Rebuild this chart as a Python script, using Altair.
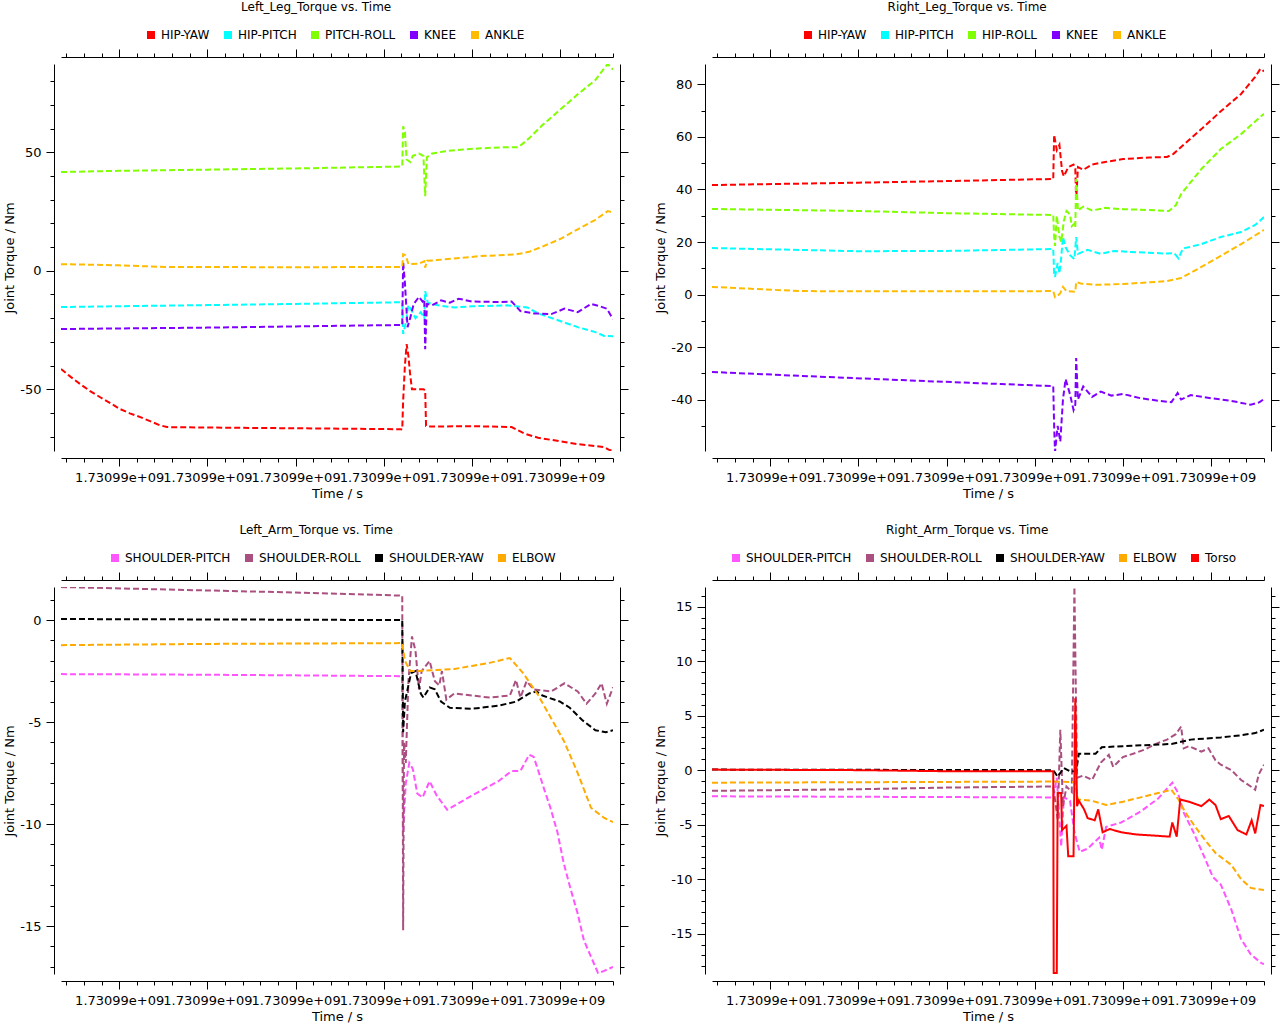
import altair as alt
import pandas as pd

FONT = "DejaVu Sans"
X_TICK_LABEL = "1.73099e+09"
X_TITLE = "Time / s"
Y_TITLE = "Joint Torque / Nm"
X_DOMAIN = [-6.6, 56.0]
X_MAJOR = [0, 10, 20, 30, 40, 50]
X_MINOR = [v for v in range(-6, 57, 2) if v % 10 != 0]

LEG_COLORS = ["#ff0000", "#00ffff", "#80ff00", "#8000ff", "#ffbb00"]
ARM_COLORS = ["#ff55ff", "#aa5080", "#000000", "#ffaa00", "#ff0000"]
DASH = [6, 3]
SOLID = [1, 0]

# ---------------- Left leg ----------------
LL_TITLE = "Left_Leg_Torque vs. Time"
LL_NAMES = ["HIP-YAW", "HIP-PITCH", "PITCH-ROLL", "KNEE", "ANKLE"]
LL_Y_DOMAIN = [-76.1, 87.3]
LL_Y_MAJOR = [-50, 0, 50]
LL_Y_MINOR = [-70, -60, -40, -30, -20, -10, 10, 20, 30, 40, 60, 70, 80]
LL_HIP_YAW = [(-6.6, -41.5), (-5.5, -44.8), (-4.4, -47.9), (-3.3, -50.8), (-2.2, -53.3), (-1.0, -55.9),
              (0.1, -58.4), (1.2, -60.2), (2.4, -61.8), (3.5, -63.5), (4.6, -65.2), (5.4, -66.0),
              (10, -66.2), (20, -66.5), (31.9, -66.9), (32.1, -67.0), (32.2, -55.0), (32.4, -40.0),
              (32.6, -31.0), (32.8, -36.0), (33.0, -44.0), (33.2, -50.0), (34.5, -50.0), (34.7, -50.5),
              (34.8, -65.5), (35.3, -65.8), (40.0, -65.6), (44.5, -66.0), (46.0, -68.8), (47.5, -70.5),
              (50.0, -72.0), (52.0, -73.2), (54.0, -74.0), (55.0, -74.5), (55.5, -75.5), (56.0, -76.1)]
LL_HIP_PITCH = [(-6.6, -15.3), (10, -14.5), (20, -14.0), (31.9, -13.3), (32.1, -13.3), (32.2, -26.7),
                (32.5, -22.0), (32.8, -14.5), (33.2, -17.0), (33.6, -20.0), (34.2, -17.5), (34.6, -20.0),
                (34.7, -8.6), (35.0, -13.5), (36.0, -14.5), (38.0, -15.5), (40.0, -15.0), (44.0, -14.6),
                (46.3, -15.5), (47.5, -18.0), (50.0, -21.2), (52.0, -23.8), (54.0, -25.9), (55.0, -27.5),
                (56.0, -27.6)]
LL_PITCH_ROLL = [(-6.6, 41.7), (0, 42.2), (10, 42.7), (20, 43.2), (31.9, 44.0), (32.1, 44.2), (32.2, 61.0),
                 (32.4, 58.5), (32.6, 47.0), (33.0, 45.9), (33.3, 48.5), (34.0, 49.5), (34.5, 48.5),
                 (34.7, 31.5), (34.9, 48.0), (35.5, 49.5), (37, 50.5), (39, 51.2), (41, 51.7), (44, 52.2),
                 (45.3, 52.2), (46.5, 56.0), (48, 61.5), (50, 68.0), (52, 74.5), (54, 80.5), (55, 85.5),
                 (55.4, 87.3), (55.7, 86.0), (56.0, 85.0)]
LL_KNEE = [(-6.6, -24.6), (10, -24.0), (20, -23.5), (31.9, -22.9), (32.1, -22.9), (32.2, 3.7), (32.4, -5.0),
           (32.7, -23.8), (33.0, -20.0), (33.4, -14.0), (34.0, -11.0), (34.4, -13.0), (34.6, -12.0),
           (34.7, -33.1), (34.9, -14.0), (35.5, -14.5), (36.5, -12.5), (37.5, -13.5), (38.5, -11.8),
           (40, -13.0), (43, -13.2), (44.5, -13.0), (45.5, -17.0), (47, -18.0), (49, -18.3), (50.5, -16.0),
           (52, -17.5), (53.5, -14.0), (54.5, -15.0), (55.3, -16.0), (56.0, -20.4)]
LL_ANKLE = [(-6.6, 2.8), (0, 2.3), (5.2, 1.6), (20, 1.5), (31.9, 1.6), (32.1, 1.6), (32.2, 7.0), (32.5, 6.5),
            (32.8, 2.8), (34.0, 3.0), (34.6, 4.0), (34.7, 1.3), (34.9, 4.2), (36, 4.5), (38, 5.2), (41, 6.2),
            (45, 6.9), (46.5, 8.0), (48, 10.2), (50, 13.4), (52, 17.5), (54, 21.5), (55.4, 25.2), (56, 24.6)]

# ---------------- Right leg ----------------
RL_TITLE = "Right_Leg_Torque vs. Time"
RL_NAMES = ["HIP-YAW", "HIP-PITCH", "HIP-ROLL", "KNEE", "ANKLE"]
RL_Y_DOMAIN = [-59.6, 87.8]
RL_Y_MAJOR = [-40, -20, 0, 20, 40, 60, 80]
RL_Y_MINOR = [-50, -30, -10, 10, 30, 50, 70]
RL_HIP_YAW = [(-6.6, 41.7), (10, 42.6), (20, 43.2), (31.9, 44.0), (32.1, 44.0), (32.2, 60.8), (32.5, 55.0),
              (32.8, 57.0), (33.1, 47.0), (33.3, 45.0), (33.8, 48.5), (34.4, 49.5), (34.6, 48.0), (34.7, 36.0),
              (34.9, 48.5), (35.5, 47.5), (36.5, 49.5), (38, 50.5), (40, 51.6), (43, 52.2), (45.0, 52.4),
              (45.7, 53.5), (46.6, 56.2), (48.9, 63.0), (51, 69.5), (53.4, 76.4), (55.0, 82.9), (55.6, 86.0),
              (56, 85.0)]
RL_HIP_PITCH = [(-6.6, 17.7), (10, 16.5), (20, 16.6), (31.9, 17.3), (32.1, 17.3), (32.2, 8.0), (32.3, 6.7),
                (32.6, 12.0), (32.8, 8.0), (33.0, 14.0), (33.2, 21.9), (33.5, 18.0), (34.0, 15.0), (34.5, 13.5),
                (34.7, 21.9), (34.9, 15.5), (36, 17.0), (37.5, 15.5), (39, 16.6), (41, 16.2), (45, 15.6),
                (45.8, 15.8), (46.3, 13.8), (46.8, 17.5), (48.9, 19.2), (51.1, 21.9), (53.4, 23.8), (55, 26.5),
                (56, 29.5)]
RL_HIP_ROLL = [(-6.6, 32.6), (10, 31.8), (20, 31.0), (31.9, 30.3), (32.1, 30.3), (32.2, 22.0), (32.3, 18.5),
               (32.5, 30.0), (32.8, 22.0), (33.0, 20.0), (33.3, 28.0), (33.6, 31.8), (34.0, 30.5), (34.2, 26.0),
               (34.5, 27.0), (34.6, 25.5), (34.7, 44.0), (34.9, 32.0), (35.5, 33.5), (36.5, 32.0), (38, 33.0),
               (40, 32.5), (43, 32.2), (45.2, 31.8), (46.0, 34.0), (46.6, 38.3), (48.9, 47.8), (51.1, 55.4),
               (53.4, 61.1), (55.7, 68.0), (56, 68.8)]
RL_KNEE = [(-6.6, -29.5), (3.5, -31.0), (14.9, -32.6), (26.2, -34.1), (31.9, -34.9), (32.1, -34.9),
           (32.2, -50.0), (32.3, -60.0), (32.6, -50.0), (32.9, -56.0), (33.2, -40.0), (33.5, -32.2),
           (34.0, -38.0), (34.4, -44.0), (34.6, -42.0), (34.7, -24.2), (34.9, -40.0), (35.5, -35.0),
           (36.5, -39.0), (37.5, -37.0), (38.7, -38.5), (40, -37.9), (42, -39.5), (44.3, -40.6),
           (45.5, -41.0), (46.2, -37.5), (46.6, -40.0), (47.7, -38.3), (50, -39.5), (52.3, -40.5),
           (54.5, -42.0), (55.5, -41.0), (56, -39.8)]
RL_ANKLE = [(-6.6, 2.9), (3.5, 1.3), (20, 1.2), (31.9, 1.3), (32.1, 1.3), (32.3, -1.0), (32.6, -0.5),
            (32.9, 0.5), (33.2, 2.9), (33.6, 1.3), (34.6, 1.0), (34.7, 4.8), (35.2, 4.2), (37, 3.7), (40, 4.0),
            (45, 5.1), (46.6, 6.3), (48.9, 10.5), (51.1, 14.7), (53.4, 19.2), (56, 24.6)]

# ---------------- Left arm ----------------
LA_TITLE = "Left_Arm_Torque vs. Time"
LA_NAMES = ["SHOULDER-PITCH", "SHOULDER-ROLL", "SHOULDER-YAW", "ELBOW"]
LA_Y_DOMAIN = [-17.35, 1.62]
LA_Y_MAJOR = [-15, -10, -5, 0]
LA_Y_MINOR = [v for v in range(-17, 2) if v % 5 != 0]
LA_SH_PITCH = [(-6.6, -2.65), (10, -2.68), (31.9, -2.75), (32.1, -2.75), (32.2, -10.3), (32.5, -8.0),
               (32.9, -7.0), (33.3, -7.3), (33.8, -8.5), (34.4, -8.7), (35.2, -7.9), (36, -8.6), (37.2, -9.3),
               (40, -8.6), (43, -7.9), (44.5, -7.4), (45.5, -7.4), (46.5, -6.6), (47, -6.7), (47.5, -7.35),
               (48.2, -8.3), (48.9, -9.2), (49.7, -10.4), (50.4, -11.9), (51.2, -13.2), (52, -14.4),
               (52.7, -15.7), (53.5, -16.5), (54.3, -17.3), (55, -17.2), (56, -17.0)]
LA_SH_ROLL = [(-6.6, 1.62), (10, 1.45), (20, 1.35), (31.9, 1.2), (32.1, 1.2), (32.2, -15.2), (32.3, -6.0),
              (32.5, -7.0), (32.8, -3.0), (33.2, -0.8), (33.6, -1.5), (34.0, -3.4), (34.3, -2.5), (35.2, -2.0),
              (35.8, -3.0), (36.3, -3.2), (36.6, -2.5), (37.1, -3.9), (38, -3.6), (40, -3.7), (42, -3.8),
              (44.3, -3.7), (45, -2.94), (45.5, -3.8), (46.2, -3.0), (47, -3.4), (49, -3.5), (50.5, -3.1),
              (52, -3.5), (53, -4.1), (54, -3.6), (54.7, -3.1), (55.3, -4.1), (56, -3.3)]
LA_SH_YAW = [(-6.6, 0.05), (10, 0.03), (31.9, 0.0), (32.1, 0.0), (32.2, -5.5), (32.4, -4.0), (32.7, -3.4),
             (33.1, -2.6), (33.6, -2.5), (34.2, -3.6), (34.5, -3.8), (35.2, -3.3), (35.8, -3.4), (36.5, -4.0),
             (37.5, -4.3), (40, -4.35), (43, -4.2), (45, -4.0), (46.5, -3.6), (47.3, -3.5), (48, -3.7),
             (50, -4.0), (51.1, -4.3), (52.5, -4.9), (54, -5.4), (55.2, -5.5), (56, -5.4)]
LA_ELBOW = [(-6.6, -1.23), (10, -1.17), (31.9, -1.13), (32.1, -1.13), (32.4, -2.0), (33.0, -2.5), (34, -2.5),
            (36, -2.45), (38, -2.4), (40, -2.25), (42, -2.1), (44.3, -1.86), (45.8, -2.6), (47.4, -3.6),
            (48.9, -4.75), (50.4, -5.9), (52, -7.5), (53.5, -9.2), (55, -9.7), (56, -9.9)]

# ---------------- Right arm ----------------
RA_TITLE = "Right_Arm_Torque vs. Time"
RA_NAMES = ["SHOULDER-PITCH", "SHOULDER-ROLL", "SHOULDER-YAW", "ELBOW", "Torso"]
RA_Y_DOMAIN = [-18.7, 16.8]
RA_Y_MAJOR = [-15, -10, -5, 0, 5, 10, 15]
RA_Y_MINOR = [v for v in range(-18, 17) if v % 5 != 0]
RA_SH_PITCH = [(-6.6, -2.4), (31.9, -2.5), (32.1, -2.5), (32.5, -0.7), (33.0, -7.0), (33.3, -2.5), (34.0, -2.8),
               (34.5, -5.7), (35.1, -7.5), (36, -7.2), (37.3, -6.2), (37.6, -7.3), (38.1, -5.2), (39.8, -4.8),
               (42, -3.8), (44, -2.6), (45.6, -1.15), (46.2, -2.0), (46.9, -3.9), (48.0, -5.7), (49.2, -7.9),
               (50.2, -9.8), (51.1, -10.5), (52.3, -12.8), (53.4, -15.5), (54.5, -16.9), (55.7, -17.7),
               (56, -17.8)]
RA_SH_ROLL = [(-6.6, -1.9), (10, -1.75), (20, -1.6), (31.9, -1.5), (32.1, -1.5), (32.6, -4.5), (32.9, 3.7),
              (33.2, -3.3), (33.6, -1.5), (34.2, -2.0), (34.5, 16.8), (34.8, -0.7), (35.5, -0.5), (36.5, -0.9),
              (37.5, 0.7), (38.4, 1.4), (38.9, 0.3), (40, 1.2), (41.5, 1.6), (42.5, 1.9), (44, 2.5), (45, 2.8),
              (46, 3.3), (46.6, 4.0), (46.9, 2.0), (47.5, 2.2), (48.9, 1.7), (49.7, 2.0), (50.5, 0.9),
              (51.1, 0.5), (52.3, 0.0), (53.4, -0.9), (54.5, -1.5), (55.0, -1.8), (55.4, -0.4), (56.0, 0.5)]
RA_SH_YAW = [(-6.6, 0.05), (31.9, 0.0), (32.1, 0.0), (32.6, -0.6), (33.3, 0.2), (34.0, -0.1), (34.7, -0.1),
             (35.0, 1.5), (36.9, 1.5), (37.6, 2.1), (40, 2.2), (45.5, 2.4), (46.6, 2.6), (47.7, 2.8), (51.1, 3.0),
             (53.4, 3.2), (55, 3.4), (56, 3.7)]
RA_ELBOW = [(-6.6, -1.15), (31.9, -1.05), (32.1, -1.05), (34.6, -1.1), (34.9, -2.7), (36.4, -2.8), (37.3, -3.0),
            (38.1, -3.2), (40, -2.9), (42, -2.5), (44, -2.1), (45.5, -1.8), (46.3, -2.7), (47.1, -3.9),
            (48.2, -5.2), (49.3, -6.4), (50.5, -7.6), (52.3, -8.7), (53.4, -10.0), (54.5, -10.8), (56, -11.0)]
RA_TORSO = [(-6.6, 0.05), (10, 0.0), (20, -0.1), (31.9, -0.1), (32.1, -0.1), (32.15, -18.6), (32.5, -18.6),
            (32.6, -2.1), (33.0, -2.1), (33.1, -5.5), (33.6, -5.1), (33.8, -7.9), (34.4, -7.9), (34.6, 6.6),
            (34.8, -3.3), (35.0, -2.8), (35.6, -3.6), (36.0, -4.4), (36.8, -4.6), (37.2, -3.6), (37.7, -5.7),
            (38.5, -5.4), (39.8, -5.7), (41.5, -5.9), (43.5, -6.0), (45.3, -6.1), (45.6, -4.8), (46.1, -6.1),
            (46.5, -2.7), (47.5, -2.9), (48.9, -3.3), (49.8, -2.7), (50.5, -3.2), (51.1, -4.5), (52.0, -4.2),
            (53.0, -5.5), (54.0, -5.9), (54.6, -4.6), (55.0, -5.8), (55.6, -3.2), (56.0, -3.3)]

AX = dict(grid=False, domainColor="black", tickColor="black", labelColor="black", titleColor="black",
          labelFont=FONT, titleFont=FONT, labelFontSize=13, titleFontSize=13, titleFontWeight="normal",
          labelOverlap=False, labelFlush=False, domainWidth=1, tickWidth=1)


def build_panel(title, names, colors, dashes, series_list, y_domain, y_major, y_minor, legend_x):
    rows = []
    for name, pts in zip(names, series_list):
        for i, (t, v) in enumerate(pts):
            rows.append({"series": name, "t": t, "v": v, "i": i})
    df = pd.DataFrame(rows)
    xs = alt.Scale(domain=X_DOMAIN, nice=False, zero=False)
    ys = alt.Scale(domain=y_domain, nice=False, zero=False)
    cs = alt.Scale(domain=names, range=colors)
    ds = alt.Scale(domain=names, range=dashes)
    base = alt.Chart(df)

    legend = alt.Legend(orient="none", legendX=legend_x, legendY=-35, direction="horizontal",
                        columns=len(names), title=None, symbolType="square", symbolSize=64,
                        symbolOpacity=1, symbolStrokeWidth=0, labelFont=FONT, labelFontSize=12,
                        labelColor="black", labelOffset=4, columnPadding=12, padding=0)
    # invisible layer: carries the mirrored (top/right) major ticks and the legend
    mirror = base.mark_square(opacity=0, size=1).encode(
        x=alt.X("t:Q", scale=xs, axis=alt.Axis(orient="top", values=X_MAJOR, labels=False, title=None,
                                                tickSize=8, offset=7, **AX)),
        y=alt.Y("v:Q", scale=ys, axis=alt.Axis(orient="right", values=y_major, labels=False, title=None,
                                                tickSize=8, offset=7, **AX)),
        color=alt.Color("series:N", scale=cs, legend=legend),
    )
    lines = base.mark_line(strokeWidth=2, clip=True).encode(
        x=alt.X("t:Q", scale=xs, axis=alt.Axis(orient="bottom", values=X_MAJOR,
                                                labelExpr=f"'{X_TICK_LABEL}'", title=X_TITLE,
                                                tickSize=8, offset=7, labelPadding=5, titlePadding=3, **AX)),
        y=alt.Y("v:Q", scale=ys, axis=alt.Axis(orient="left", values=y_major, labelExpr="datum.value + ''",
                                                title=Y_TITLE, tickSize=8, offset=7, labelPadding=5,
                                                titlePadding=3, **AX)),
        color=alt.Color("series:N", scale=cs, legend=None),
        strokeDash=alt.StrokeDash("series:N", scale=ds, legend=None),
        order=alt.Order("i:Q"),
    )
    minor_a = base.mark_point(opacity=0, size=1).encode(
        x=alt.X("t:Q", scale=xs, axis=alt.Axis(orient="bottom", values=X_MINOR, labels=False, title=None,
                                                domain=False, tickSize=4, offset=7, **AX)),
        y=alt.Y("v:Q", scale=ys, axis=alt.Axis(orient="left", values=y_minor, labels=False, title=None,
                                                domain=False, tickSize=4, offset=7, **AX)),
    )
    minor_b = base.mark_point(opacity=0, size=1).encode(
        x=alt.X("t:Q", scale=xs, axis=alt.Axis(orient="top", values=X_MINOR, labels=False, title=None,
                                                domain=False, tickSize=4, offset=7, **AX)),
        y=alt.Y("v:Q", scale=ys, axis=alt.Axis(orient="right", values=y_minor, labels=False, title=None,
                                                domain=False, tickSize=4, offset=7, **AX)),
    )
    return alt.layer(mirror, lines, minor_a, minor_b).resolve_axis(
        x="independent", y="independent"
    ).properties(
        width=552, height=387,
        title=alt.TitleParams(title, font=FONT, fontSize=12, fontWeight="normal", color="black",
                              frame="bounds", anchor="middle", offset=15),
    )


p1 = build_panel(LL_TITLE, LL_NAMES, LEG_COLORS, [DASH] * 5,
                 [LL_HIP_YAW, LL_HIP_PITCH, LL_PITCH_ROLL, LL_KNEE, LL_ANKLE],
                 LL_Y_DOMAIN, LL_Y_MAJOR, LL_Y_MINOR, 84)
p2 = build_panel(RL_TITLE, RL_NAMES, LEG_COLORS, [DASH] * 5,
                 [RL_HIP_YAW, RL_HIP_PITCH, RL_HIP_ROLL, RL_KNEE, RL_ANKLE],
                 RL_Y_DOMAIN, RL_Y_MAJOR, RL_Y_MINOR, 90)
p3 = build_panel(LA_TITLE, LA_NAMES, ARM_COLORS[:4], [DASH] * 4,
                 [LA_SH_PITCH, LA_SH_ROLL, LA_SH_YAW, LA_ELBOW],
                 LA_Y_DOMAIN, LA_Y_MAJOR, LA_Y_MINOR, 48)
p4 = build_panel(RA_TITLE, RA_NAMES, ARM_COLORS, [DASH] * 4 + [SOLID],
                 [RA_SH_PITCH, RA_SH_ROLL, RA_SH_YAW, RA_ELBOW, RA_TORSO],
                 RA_Y_DOMAIN, RA_Y_MAJOR, RA_Y_MINOR, 18)

chart = alt.concat(p1, p2, p3, p4, columns=2, spacing={"row": 24, "column": 25}).resolve_scale(
    x="independent", y="independent", color="independent", strokeDash="independent"
).properties(
    padding={"left": 3, "top": 1, "right": 0, "bottom": 0}, background="white"
).configure_view(strokeWidth=0)

chart.save("out.html", embed_options={"renderer": "svg", "actions": False})
